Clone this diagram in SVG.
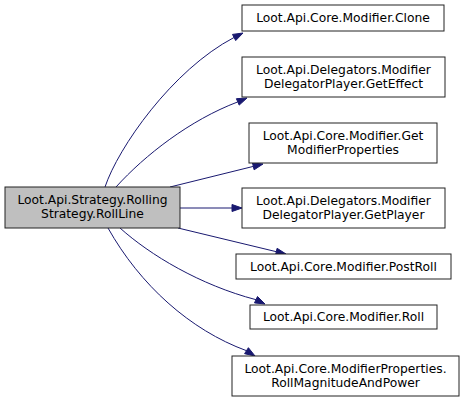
<svg xmlns="http://www.w3.org/2000/svg" width="464" height="402" viewBox="0 0 464 402">
<style>
.n rect{fill:#fff;stroke:#222;stroke-width:1}
.n.m rect{fill:#bfbfbf}
.n text{font-family:"DejaVu Sans",sans-serif;font-size:12.3px;text-anchor:middle;fill:#000}
.e path{fill:none;stroke:#191970;stroke-width:1}
.e polygon{fill:#191970;stroke:#191970;stroke-width:1}
</style>
<rect width="464" height="402" fill="#fff"/>
<g id="connectors" class="e">
<path d="M105,187 C118,148 172,70 234,37.5"/>
<polygon points="243,33 232.5,34.4 235.7,40.6"/>
<path d="M116,187 C145,155 190,120 237.8,101.9"/>
<polygon points="247,98 236.4,98.7 239.2,105.1"/>
<path d="M170,187 L253.3,166.4"/>
<polygon points="263,164 252.5,163 254.1,169.8"/>
<path d="M180,208 L232,208"/>
<polygon points="242,208 232,204.5 232,211.5"/>
<path d="M178,228 L276.3,251.7"/>
<polygon points="286,254 277.1,248.3 275.5,255.1"/>
<path d="M120,228 C150,255 200,285 256,299.7"/>
<polygon points="265,304 257.5,296.5 254.5,302.9"/>
<path d="M108,228 C140,285 190,330 246.5,350.7"/>
<polygon points="255,356 248.4,347.7 244.6,353.7"/>
</g>
<g id="node-main" class="n m">
<rect x="5" y="187" width="175" height="41"/>
<text x="92.5" y="204">Loot.Api.Strategy.Rolling</text>
<text x="92.5" y="218">Strategy.RollLine</text>
</g>
<g id="node-clone" class="n">
<rect x="242" y="5" width="202" height="26"/>
<text x="343" y="22">Loot.Api.Core.Modifier.Clone</text>
</g>
<g id="node-geteffect" class="n">
<rect x="242" y="57" width="203" height="40"/>
<text x="343.5" y="74">Loot.Api.Delegators.Modifier</text>
<text x="343.5" y="88">DelegatorPlayer.GetEffect</text>
</g>
<g id="node-getmodprops" class="n">
<rect x="249" y="123" width="188" height="40"/>
<text x="343" y="140">Loot.Api.Core.Modifier.Get</text>
<text x="343" y="154">ModifierProperties</text>
</g>
<g id="node-getplayer" class="n">
<rect x="242" y="188" width="203" height="40"/>
<text x="343.5" y="205">Loot.Api.Delegators.Modifier</text>
<text x="343.5" y="219">DelegatorPlayer.GetPlayer</text>
</g>
<g id="node-postroll" class="n">
<rect x="236" y="254" width="215" height="25"/>
<text x="343.5" y="270.5">Loot.Api.Core.Modifier.PostRoll</text>
</g>
<g id="node-roll" class="n">
<rect x="250" y="305" width="187" height="24"/>
<text x="343.5" y="321">Loot.Api.Core.Modifier.Roll</text>
</g>
<g id="node-rollmag" class="n">
<rect x="232" y="356" width="227" height="40"/>
<text x="345.5" y="373">Loot.Api.Core.ModifierProperties.</text>
<text x="345.5" y="387">RollMagnitudeAndPower</text>
</g>
</svg>
